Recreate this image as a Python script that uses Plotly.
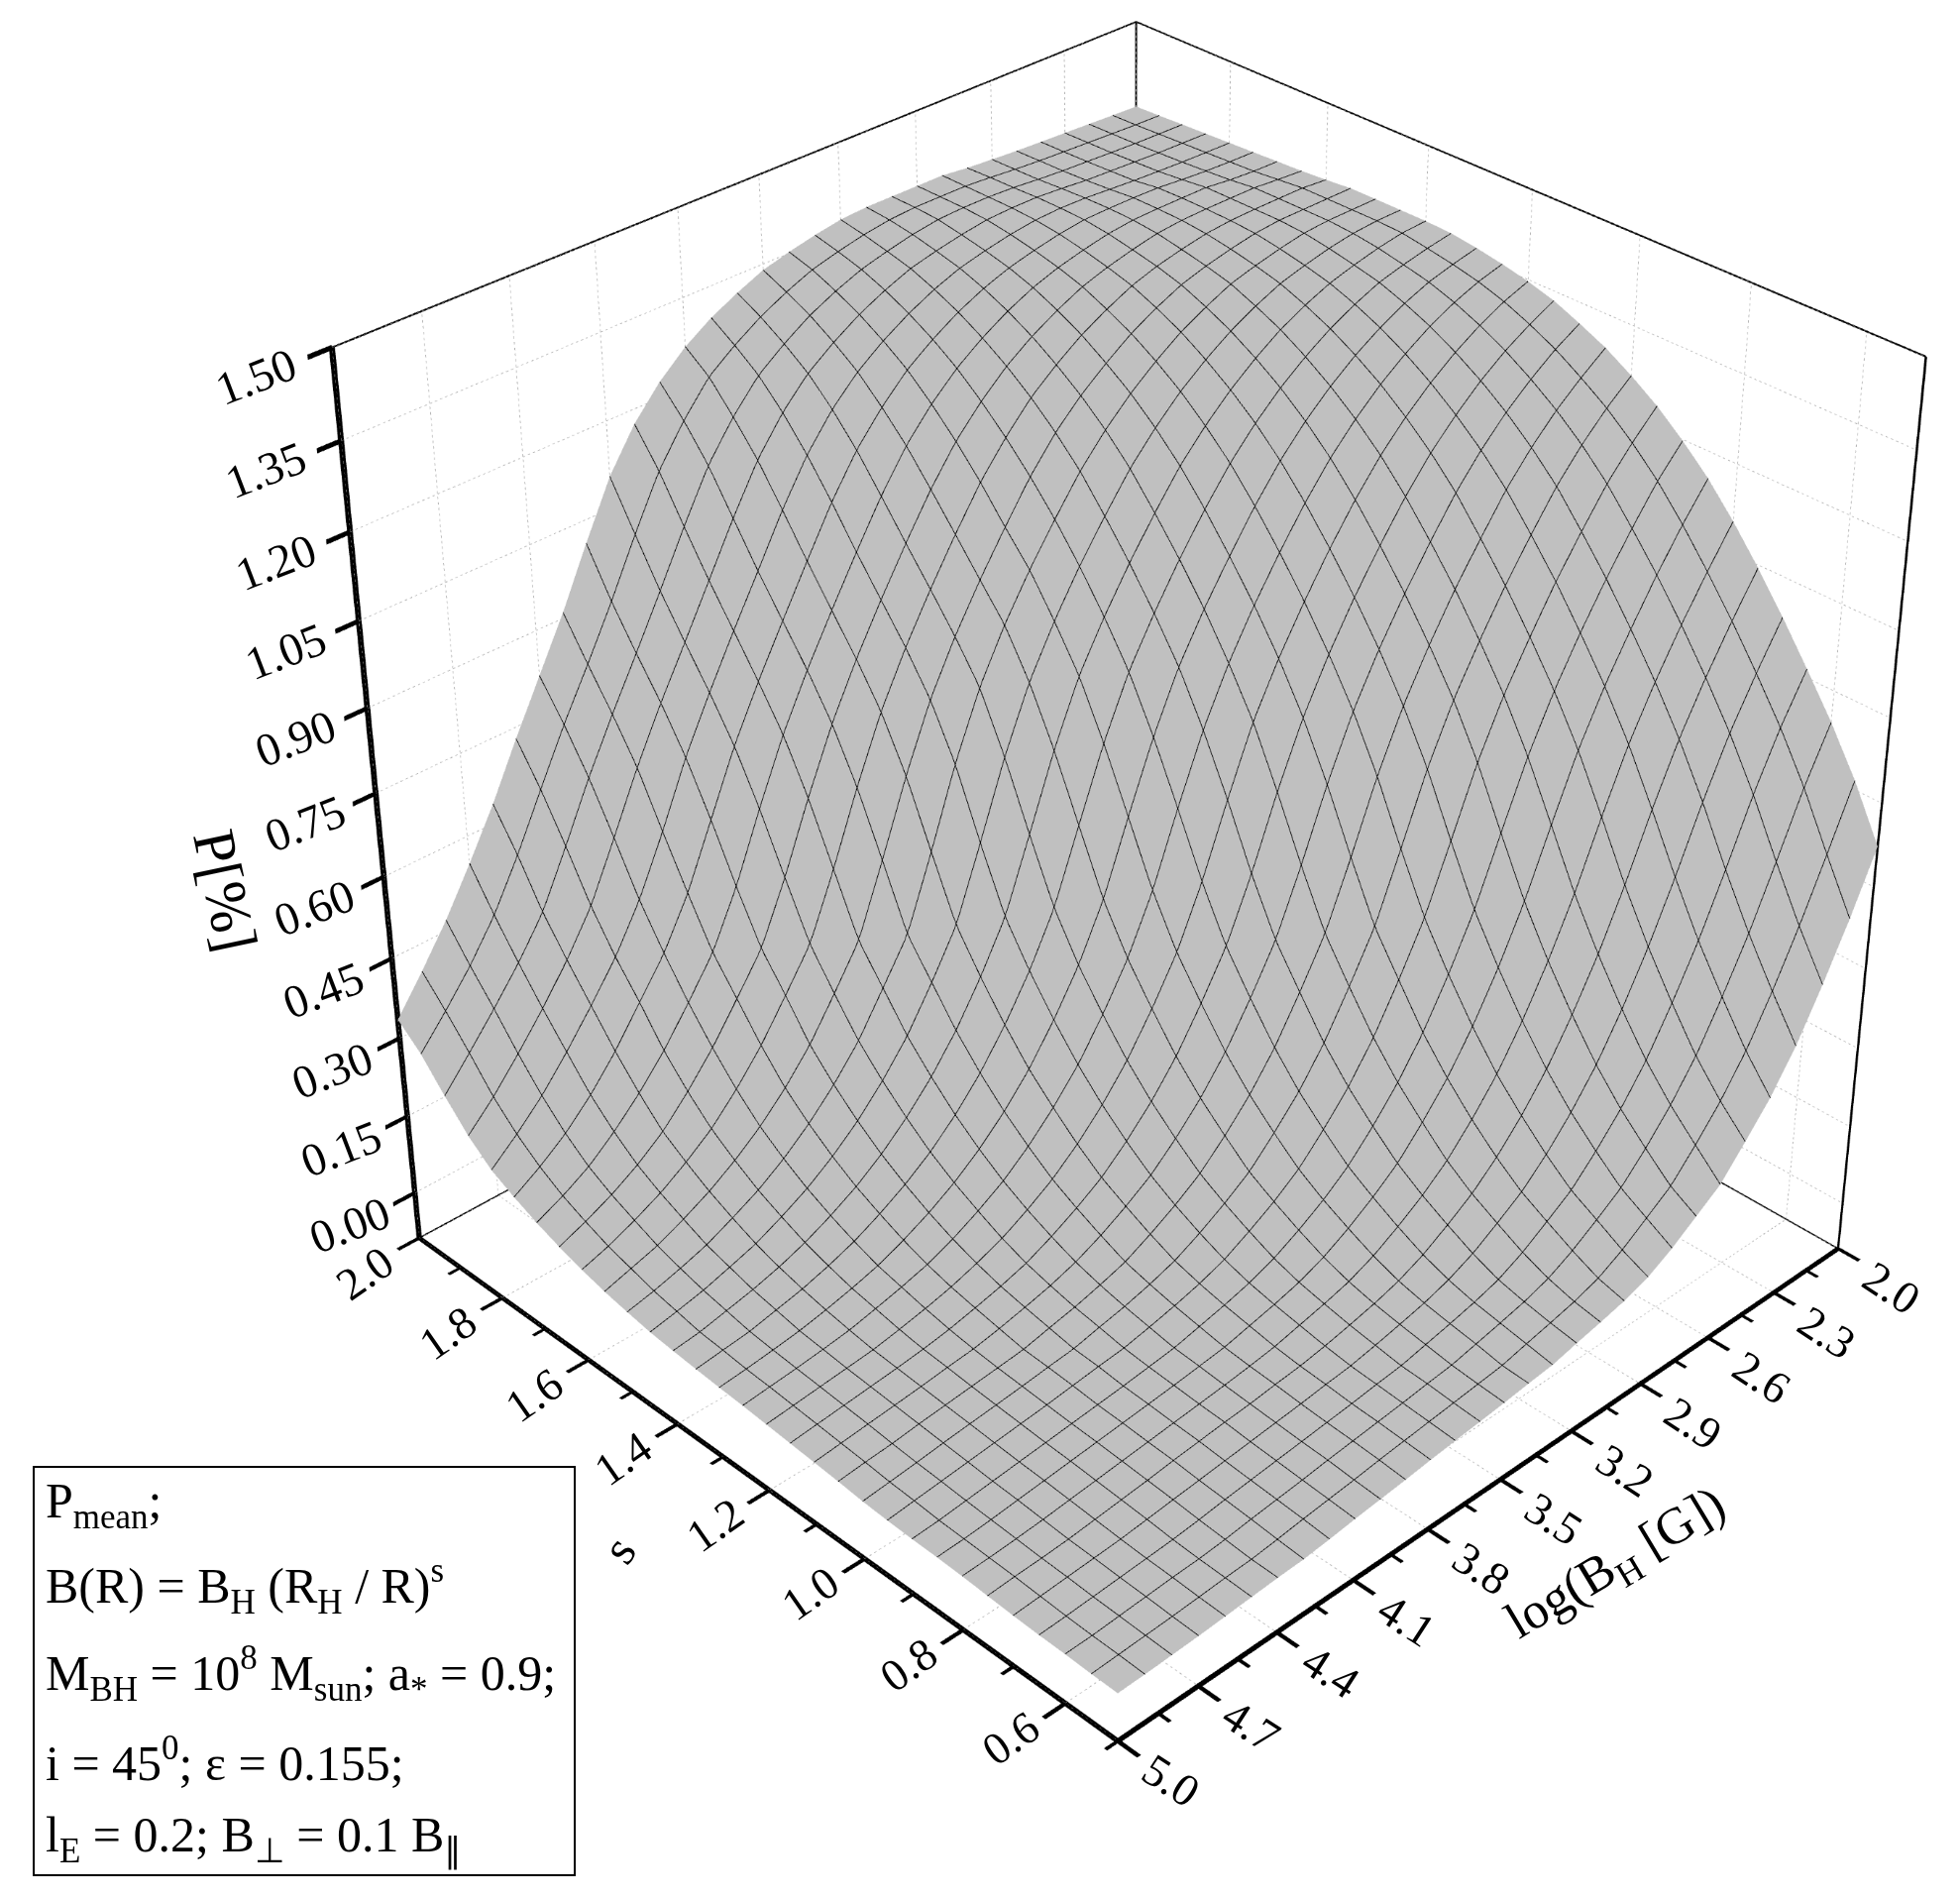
import plotly.graph_objects as go

s_values = [0.5,0.55,0.6,0.65,0.7,0.75,0.8,0.85,0.9,0.95,1.0,1.05,1.1,1.15,1.2,1.25,1.3,1.35,1.4,1.45,1.5,1.55,1.6,1.65,1.7,1.75,1.8,1.85,1.9,1.95,2.0]
logb_values = [2.0,2.1,2.2,2.3,2.4,2.5,2.6,2.7,2.8,2.9,3.0,3.1,3.2,3.3,3.4,3.5,3.6,3.7,3.8,3.9,4.0,4.1,4.2,4.3,4.4,4.5,4.6,4.7,4.8,4.9,5.0]

# P[%]: one row per s value, one column per log(B_H) value
p_table = [
[.673,.567,.472,.385,.315,.260,.207,.175,.143,.117,.101,.090,.080,.069,.064,.058,.053,.048,.043,.037,.032,.027,.021,.016,.014,.011,.008,.005,.003,.001,0],
[.766,.658,.553,.459,.375,.308,.253,.203,.171,.139,.114,.099,.088,.078,.067,.062,.057,.052,.047,.042,.036,.031,.026,.020,.015,.013,.010,.007,.005,.003,.001],
[.845,.753,.644,.539,.448,.365,.300,.246,.199,.167,.137,.113,.098,.087,.077,.067,.062,.056,.051,.046,.041,.035,.030,.025,.019,.015,.013,.010,.007,.004,.003],
[.915,.835,.740,.629,.525,.436,.356,.292,.240,.194,.163,.133,.110,.096,.085,.075,.065,.060,.054,.049,.044,.039,.034,.029,.023,.018,.015,.012,.009,.006,.004],
[.982,.907,.825,.726,.615,.513,.424,.347,.285,.233,.190,.159,.130,.109,.094,.083,.073,.064,.059,.053,.048,.043,.038,.033,.028,.023,.018,.015,.012,.009,.006],
[1.045,.975,.899,.814,.712,.600,.499,.413,.338,.278,.227,.186,.155,.127,.106,.092,.081,.071,.063,.058,.052,.048,.043,.038,.032,.027,.022,.017,.014,.012,.009],
[1.103,1.038,.968,.891,.804,.698,.584,.486,.401,.328,.270,.220,.182,.151,.124,.104,.091,.080,.069,.062,.056,.051,.046,.041,.036,.031,.026,.021,.017,.014,.012],
[1.155,1.097,1.032,.960,.883,.793,.683,.569,.473,.390,.320,.264,.214,.178,.147,.121,.102,.089,.078,.067,.061,.055,.050,.045,.040,.035,.030,.025,.020,.016,.014],
[1.198,1.150,1.090,1.025,.953,.874,.781,.668,.553,.460,.378,.311,.256,.208,.172,.143,.118,.100,.087,.076,.065,.059,.053,.048,.043,.038,.033,.028,.023,.018,.015],
[1.236,1.194,1.145,1.084,1.019,.945,.866,.770,.653,.538,.449,.368,.302,.249,.202,.168,.140,.115,.098,.085,.074,.064,.059,.053,.047,.042,.037,.032,.027,.022,.017],
[1.267,1.232,1.19,1.14,1.078,1.012,.938,.857,.758,.638,.521,.436,.357,.293,.242,.196,.164,.136,.112,.096,.083,.073,.062,.057,.051,.046,.041,.036,.030,.025,.020],
[1.294,1.263,1.228,1.185,1.134,1.071,1.005,.930,.846,.744,.622,.508,.425,.348,.286,.236,.192,.160,.133,.109,.094,.081,.071,.060,.055,.050,.045,.040,.034,.030,.025],
[1.315,1.291,1.260,1.224,1.180,1.128,1.065,.997,.922,.836,.729,.607,.495,.413,.339,.279,.230,.188,.157,.130,.108,.092,.080,.069,.060,.055,.049,.044,.039,.034,.029],
[1.334,1.313,1.288,1.257,1.219,1.175,1.121,1.058,.990,.913,.824,.715,.591,.483,.403,.330,.272,.224,.183,.153,.127,.105,.090,.078,.067,.059,.053,.048,.043,.038,.033],
[1.347,1.332,1.311,1.285,1.253,1.215,1.170,1.115,1.052,.982,.905,.816,.700,.576,.471,.392,.322,.265,.218,.179,.149,.123,.104,.088,.076,.066,.057,.052,.047,.042,.037],
[1.357,1.346,1.330,1.309,1.282,1.250,1.211,1.165,1.109,1.045,.975,.896,.801,.684,.559,.459,.381,.313,.259,.213,.175,.146,.121,.101,.087,.075,.064,.057,.051,.046,.041],
[1.365,1.356,1.345,1.328,1.306,1.279,1.246,1.207,1.160,1.103,1.038,.968,.889,.788,.668,.542,.446,.370,.304,.251,.207,.171,.142,.118,.098,.084,.072,.062,.055,.049,.044],
[1.371,1.364,1.355,1.344,1.326,1.304,1.276,1.243,1.203,1.155,1.097,1.032,.960,.880,.776,.652,.526,.435,.360,.296,.244,.201,.167,.139,.115,.097,.082,.071,.060,.054,.048],
[1.373,1.371,1.364,1.354,1.342,1.324,1.302,1.273,1.239,1.198,1.150,1.090,1.025,.953,.872,.763,.635,.509,.423,.349,.288,.238,.196,.162,.135,.112,.094,.080,.069,.058,.052],
[1.373,1.373,1.370,1.363,1.353,1.341,1.322,1.299,1.270,1.236,1.194,1.145,1.084,1.019,.945,.860,.750,.619,.493,.412,.338,.280,.231,.191,.158,.132,.109,.093,.078,.067,.057],
[1.373,1.373,1.373,1.37,1.362,1.352,1.34,1.32,1.297,1.267,1.232,1.19,1.14,1.078,1.012,.938,.850,.737,.602,.475,.401,.328,.272,.225,.186,.154,.129,.106,.090,.076,.065],
[1.373,1.373,1.373,1.373,1.369,1.361,1.351,1.338,1.318,1.294,1.263,1.228,1.185,1.130,1.064,.994,.917,.828,.715,.586,.463,.390,.320,.265,.219,.182,.151,.126,.104,.089,.074],
[1.369,1.373,1.373,1.373,1.372,1.368,1.360,1.350,1.336,1.315,1.291,1.260,1.224,1.176,1.12,1.051,.977,.897,.806,.694,.569,.456,.386,.318,.262,.214,.178,.147,.123,.102,.086],
[1.366,1.369,1.373,1.373,1.373,1.372,1.368,1.359,1.348,1.334,1.313,1.288,1.257,1.217,1.169,1.107,1.035,.958,.876,.784,.674,.553,.447,.379,.313,.257,.208,.172,.143,.120,.100],
[1.364,1.365,1.368,1.373,1.373,1.373,1.372,1.367,1.358,1.347,1.332,1.311,1.285,1.253,1.212,1.161,1.095,1.019,.939,.856,.764,.654,.536,.439,.371,.307,.253,.207,.168,.14,.117],
[1.362,1.363,1.365,1.368,1.372,1.373,1.373,1.372,1.366,1.357,1.346,1.330,1.309,1.282,1.250,1.206,1.153,1.084,1.003,.92,.835,.743,.633,.523,.437,.371,.305,.249,.203,.167,.137],
[1.36,1.361,1.362,1.364,1.366,1.369,1.372,1.373,1.371,1.365,1.356,1.345,1.328,1.306,1.279,1.246,1.202,1.144,1.07,.985,.902,.815,.722,.611,.51,.429,.364,.303,.247,.201,.16],
[1.358,1.359,1.36,1.362,1.364,1.366,1.37,1.373,1.373,1.371,1.364,1.355,1.344,1.326,1.304,1.276,1.243,1.196,1.135,1.055,.968,.881,.796,.703,.599,.498,.423,.358,.299,.244,.197],
[1.356,1.357,1.358,1.36,1.362,1.364,1.367,1.371,1.373,1.373,1.371,1.364,1.354,1.342,1.324,1.302,1.273,1.239,1.188,1.125,1.04,.949,.861,.775,.684,.583,.486,.417,.357,.30,.245],
[1.354,1.355,1.357,1.359,1.361,1.363,1.366,1.37,1.373,1.373,1.373,1.370,1.363,1.353,1.341,1.322,1.299,1.270,1.236,1.181,1.115,1.026,.93,.841,.756,.662,.566,.48,.411,.352,.297],
[1.352,1.354,1.356,1.358,1.36,1.362,1.365,1.368,1.373,1.373,1.373,1.373,1.370,1.362,1.352,1.340,1.320,1.297,1.267,1.227,1.175,1.105,1.01,.91,.82,.73,.635,.55,.47,.40,.335],
]
assert all(len(r) == 31 for r in p_table) and len(p_table) == 31

s_major = [2.0,1.8,1.6,1.4,1.2,1.0,0.8,0.6]
s_minor = [1.9,1.7,1.5,1.3,1.1,0.9,0.7,0.5]
logb_major = [2.0,2.3,2.6,2.9,3.2,3.5,3.8,4.1,4.4,4.7,5.0]
logb_minor = [2.15,2.45,2.75,3.05,3.35,3.65,3.95,4.25,4.55,4.85]
z_major = [0.0,0.15,0.30,0.45,0.60,0.75,0.90,1.05,1.20,1.35,1.50]

S0, S1, B0, B1, Z0, Z1 = 0.5, 2.0, 2.0, 5.0, -0.09, 1.5
SERIF = "Liberation Serif"
W, H = 4184, 4184
LEFT, TOP = 954, 1261


def px(x):
    return (x + LEFT) / W


def py(y):
    return 1 - (y + TOP) / H


def line_trace(segments, color):
    xs, ys, zs = [], [], []
    for a, b in segments:
        xs += [a[0], b[0], None]
        ys += [a[1], b[1], None]
        zs += [a[2], b[2], None]
    return go.Scatter3d(x=xs, y=ys, z=zs, mode="lines", hoverinfo="skip", showlegend=False,
                        line=dict(color=color, width=1))


def ribbons(groups):
    """Flat black strips: each group is (segments, half-width vector)."""
    xs, ys, zs, ii, jj, kk = [], [], [], [], [], []
    for segments, d in groups:
        for a, b in segments:
            n = len(xs)
            for p, sign in ((a, -1), (a, 1), (b, 1), (b, -1)):
                xs.append(p[0] + sign * d[0])
                ys.append(p[1] + sign * d[1])
                zs.append(p[2] + sign * d[2])
            ii += [n, n]
            jj += [n + 1, n + 2]
            kk += [n + 2, n + 3]
    return go.Mesh3d(x=xs, y=ys, z=zs, i=ii, j=jj, k=kk, color="#000000", flatshading=True, hoverinfo="skip",
                     showlegend=False, lighting=dict(ambient=1, diffuse=0, specular=0, roughness=1, fresnel=0))


def dotted(a, b, n=170):
    out = []
    for k in range(n):
        f0, f1 = k / n, (k + 0.45) / n
        out.append((tuple(p + (q - p) * f0 for p, q in zip(a, b)), tuple(p + (q - p) * f1 for p, q in zip(a, b))))
    return out


grid = []
for t in s_major:
    grid += dotted((t, B1, Z0), (t, B0, Z0)) + dotted((t, B0, Z0), (t, B0, Z1))
for t in logb_major:
    grid += dotted((S1, t, Z0), (S0, t, Z0)) + dotted((S1, t, Z0), (S1, t, Z1))
for t in z_major:
    grid += dotted((S1, B1, t), (S1, B0, t)) + dotted((S1, B0, t), (S0, B0, t))

frame = ribbons([
    ([((S1, B1, Z1), (S1, B0, Z1)), ((S1, B0, Z1), (S0, B0, Z1)),
      ((S1, B1, Z0), (S1, B0, Z0)), ((S0, B0, Z0), (S1, B0, Z0))], (0, 0, 0.0015)),
    ([((S0, B0, Z1), (S0, B0, Z0)), ((S1, B0, Z0), (S1, B0, Z1))], (0.002, 0, 0)),
])
axes_and_ticks = ribbons([
    ([((S1, B1, Z0), (S1, B1, Z1))], (0, 0.0095, 0)),
    ([((S1, B1, Z0), (S0, B1, Z0))], (0, 0.0085, 0)),
    ([((S0, B1, Z0), (S0, B0, Z0))], (0.0042, 0, 0)),
    ([((t, B1, Z0), (t, B1 + 0.08, Z0)) for t in s_major], (0.0036, 0, 0)),
    ([((S0, t, Z0), (S0 - 0.04, t, Z0)) for t in logb_major], (0, 0.0072, 0)),
    ([((S1, B1, t), (S1, B1 + 0.08, t)) for t in z_major], (0, 0, 0.0042)),
    ([((t, B1, Z0), (t, B1 + 0.045, Z0)) for t in s_minor], (0.003, 0, 0)),
    ([((S0, t, Z0), (S0 - 0.022, t, Z0)) for t in logb_minor], (0, 0.006, 0)),
])

fig = go.Figure()
fig.add_trace(line_trace(grid, "#b4b4b4"))
fig.add_trace(frame)
fig.add_trace(go.Surface(
    x=s_values, y=logb_values, z=[list(col) for col in zip(*p_table)],
    colorscale=[[0, "#c0c0c0"], [1, "#c0c0c0"]], showscale=False, hoverinfo="skip",
    lighting=dict(ambient=1, diffuse=0, specular=0, roughness=1, fresnel=0),
    contours=dict(
        x=dict(show=True, start=0.5, end=2.0, size=0.05, color="#000000", width=1, highlight=False),
        y=dict(show=True, start=2.0, end=5.0, size=0.1, color="#000000", width=1, highlight=False),
        z=dict(show=False, highlight=False),
    ),
))
fig.add_trace(axes_and_ticks)

scene_ann = []
for t in z_major:
    scene_ann.append(dict(x=S1, y=B1, z=t, text=f"{t:.2f}", showarrow=False, textangle=-21,
                          font=dict(family=SERIF, size=47, color="#000000"),
                          xshift=-66 - 11 * t / 1.5, yshift=-33 + 4 * t / 1.5))
for t in s_major:
    scene_ann.append(dict(x=t, y=B1, z=Z0, text=f"{t:.1f}", showarrow=False, textangle=-35,
                          font=dict(family=SERIF, size=46, color="#000000"), xshift=-55, yshift=-35))
for t in logb_major:
    scene_ann.append(dict(x=S0, y=t, z=Z0, text=f"{t:.1f}", showarrow=False, textangle=33,
                          font=dict(family=SERIF, size=46, color="#000000"), xshift=54, yshift=-40))

axis_common = dict(showgrid=False, zeroline=False, showline=False, showticklabels=False, ticks="",
                   showbackground=False, showspikes=False, title="")

legend_lines = [
    ("P<sub>mean</sub>;", 1518),
    ("B(R) = B<sub>H</sub> (R<sub>H</sub> / R)<sup>s</sup>", 1600),
    ("M<sub>BH</sub> = 10<sup>8</sup> M<sub>sun</sub>; a<sub>*</sub> = 0.9;", 1688),
    ("i = 45<sup>0</sup>; ε = 0.155;", 1775),
    ("l<sub>E</sub> = 0.2; B<sub>⊥</sub> = 0.1 B<sub>∥</sub>", 1855),
]
paper_ann = [dict(xref="paper", yref="paper", x=px(44), y=py(yy), text=txt, showarrow=False, xanchor="left",
                  yanchor="middle", font=dict(family=SERIF, size=50, color="#000000"))
             for txt, yy in legend_lines]
paper_ann.append(dict(xref="paper", yref="paper", x=px(227), y=py(898), text="P[%]", showarrow=False, textangle=78,
                      xanchor="center", yanchor="middle", font=dict(family=SERIF, size=60, color="#000000")))
paper_ann.append(dict(xref="paper", yref="paper", x=px(1631), y=py(1579), text="log(B<sub>H</sub> [G])", showarrow=False,
                      textangle=-31, xanchor="center", yanchor="middle", font=dict(family=SERIF, size=52, color="#000000")))
paper_ann.append(dict(xref="paper", yref="paper", x=px(624), y=py(1564), text="s", showarrow=False, textangle=-55,
                      xanchor="center", yanchor="middle", font=dict(family=SERIF, size=50, color="#000000")))

fig.update_layout(
    width=W, height=H, margin=dict(l=0, r=0, t=0, b=0), paper_bgcolor="#ffffff", showlegend=False,
    annotations=paper_ann,
    shapes=[dict(type="rect", xref="paper", yref="paper", x0=px(34), x1=px(580), y0=py(1892), y1=py(1480),
                 line=dict(color="#000000", width=2), fillcolor="rgba(0,0,0,0)")],
    scene=dict(
        domain=dict(x=[0, 1], y=[0, 1]),
        xaxis=dict(range=[0.455, 2.005], **axis_common),
        yaxis=dict(range=[1.99, 5.09], **axis_common),
        zaxis=dict(range=[Z0 - 0.01, Z1 + 0.01], **axis_common),
        aspectmode="manual",
        aspectratio=dict(x=1.0333, y=1.0333, z=1.0126),
        camera=dict(
            projection=dict(type="perspective"),
            center=dict(x=0.0133, y=-0.0133, z=0.0),
            eye=dict(x=-2.808, y=2.74, z=2.584),
            up=dict(x=0, y=0, z=1),
        ),
        annotations=scene_ann,
    ),
)

# The 3D view needs a narrower field of view than a window-sized scene gives, so the large scene
# is placed so that the window shows its central part.
fig.write_html("out.html", post_script=(
    "var gd=document.getElementById('{plot_id}');"
    "gd.style.position='absolute';gd.style.left='-%dpx';gd.style.top='-%dpx';"
    "document.documentElement.style.overflow='hidden';document.body.style.overflow='hidden';" % (LEFT, TOP)
))
